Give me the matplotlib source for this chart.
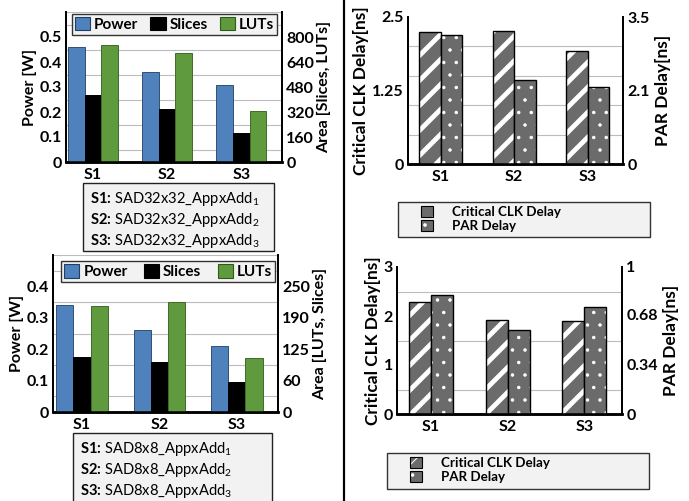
import matplotlib
matplotlib.use("Agg")
import matplotlib.pyplot as plt
from matplotlib.patches import Patch, Rectangle
from matplotlib.lines import Line2D
import numpy as np

plt.rcParams['font.family'] = ['Lato', 'DejaVu Sans']
plt.rcParams['mathtext.fontset'] = 'custom'
plt.rcParams['mathtext.rm'] = 'Lato'
plt.rcParams['mathtext.bf'] = 'Lato:bold'
plt.rcParams['mathtext.default'] = 'regular'

# ---- data ----
cats = ["S1", "S2", "S3"]

# SAD32x32
power32 = [0.46, 0.36, 0.31]
slices32 = [426, 339, 186]
luts32 = [752, 696, 329]
clk32 = [2.25, 2.27, 1.92]
par32 = [3.06, 2.00, 1.83]
names32 = ["SAD32x32_AppxAdd", "SAD32x32_AppxAdd", "SAD32x32_AppxAdd"]

# SAD8x8
power8 = [0.34, 0.26, 0.21]
slices8 = [110, 100, 60]
luts8 = [210, 218, 108]
clk8 = [2.29, 1.92, 1.90]
par8 = [0.81, 0.57, 0.73]
names8 = ["SAD8x8_AppxAdd", "SAD8x8_AppxAdd", "SAD8x8_AppxAdd"]

BLUE = "#4f81bd"
GREEN = "#5f9a3e"
GRAY = "#6b6b6b"
BOXBG = "#f2f2f2"

# figure is drawn at 75 dpi (hatch spacing follows dpi); K scales sizes
DPI = 75
K = 100 / DPI
FS = 11.5 * K
W, H = 689, 501
fig = plt.figure(figsize=(W / DPI, H / DPI), dpi=DPI)


def rect(x0, y0, x1, y1):
    # pixel box -> figure fractions
    return [x0 / W, 1 - y1 / H, (x1 - x0) / W, (y1 - y0) / H]


def style_axes(ax, ax2):
    for a in (ax, ax2):
        a.spines['top'].set_visible(False)
        a.spines['left'].set_linewidth(1.3 * K)
        a.spines['right'].set_linewidth(1.3 * K)
        a.spines['bottom'].set_linewidth(1.8 * K)
        a.tick_params(length=0, labelsize=FS, pad=3 * K)
        for t in a.get_yticklabels() + a.get_xticklabels():
            t.set_fontweight('bold')
    ax.set_xticks(range(len(cats)))
    ax.set_xticklabels(cats, fontweight='bold', fontsize=FS)
    ax.tick_params(axis='x', pad=4 * K)
    ax.set_axisbelow(True)


def area_panel(box, power, slices, luts, ymax, ratio, yticks, rticks, rlabels,
               rlabel, w, xlim, legbox):
    ax = fig.add_axes(rect(*box))
    ax2 = ax.twinx()
    x = np.arange(len(cats))
    ax.bar(x - w, power, w, color=BLUE, edgecolor='#2f4f75', lw=0.7 * K, zorder=3)
    ax2.bar(x, slices, w, color='black', edgecolor='black', lw=0.7 * K)
    ax2.bar(x + w, luts, w, color=GREEN, edgecolor='#3f6a28', lw=0.7 * K)
    ax.set_ylim(0, ymax)
    ax2.set_ylim(0, ymax * ratio)
    ax.set_xlim(*xlim)
    ax.set_yticks(yticks)
    ax.set_yticklabels([("%g" % v) for v in yticks])
    ax.set_yticks(np.arange(0.05, ymax + 1e-9, 0.05), minor=True)
    ax.grid(axis='y', which='minor', color='#bcbcbc', lw=0.8 * K)
    ax.tick_params(which='minor', length=0)
    ax2.set_yticks(rticks)
    ax2.set_yticklabels(rlabels)
    ax.set_ylabel("Power [W]", fontweight='bold', fontsize=FS, labelpad=2 * K)
    ax2.set_ylabel(rlabel, fontweight='bold', fontsize=FS, labelpad=2 * K)
    style_axes(ax, ax2)
    handles = [Patch(fc=BLUE, ec='#1f3f65', lw=0.8 * K),
               Patch(fc='black', ec='black', lw=0.8 * K),
               Patch(fc=GREEN, ec='#2f5a18', lw=0.8 * K)]
    leg = ax2.legend(handles, ["Power", "Slices", "LUTs"], ncol=3,
                     loc='lower left', bbox_to_anchor=legbox, mode='expand',
                     borderaxespad=0, fancybox=False, handlelength=1.0,
                     handleheight=1.0, handletextpad=0.25, columnspacing=0.4,
                     borderpad=0.2, prop={'weight': 'bold', 'size': 11 * K})
    leg.get_frame().set_facecolor(BOXBG)
    leg.get_frame().set_edgecolor('#333333')
    leg.get_frame().set_linewidth(1.0 * K)
    leg.get_frame().set_alpha(1)
    return ax, ax2


def delay_panel(box, clk, par, ymax, rmax, lticks, llabels, rticks, rlabels,
                w, xlim, grid):
    ax = fig.add_axes(rect(*box))
    ax2 = ax.twinx()
    x = np.arange(len(cats))
    b1 = ax.bar(x - w / 2, clk, w, color=GRAY, edgecolor='white', lw=0,
                hatch='/', zorder=3)
    for p in b1:
        p.set_hatch_linewidth(4.6)
    ax.bar(x - w / 2, clk, w, fill=False, edgecolor='black', lw=1.0 * K, zorder=4)
    b2 = ax2.bar(x + w / 2, par, w, color=GRAY, edgecolor='white', lw=0,
                 hatch='.')
    for p in b2:
        p.set_hatch_linewidth(0.9)
    ax2.bar(x + w / 2, par, w, fill=False, edgecolor='black', lw=1.0 * K)
    ax.set_ylim(0, ymax)
    ax2.set_ylim(0, rmax)
    ax.set_xlim(*xlim)
    ax.set_yticks(lticks)
    ax.set_yticklabels(llabels)
    ax.set_yticks(grid, minor=True)
    ax.grid(axis='y', which='minor', color='#bcbcbc', lw=0.8 * K)
    ax.tick_params(which='minor', length=0)
    ax2.set_yticks(rticks)
    ax2.set_yticklabels(rlabels)
    ax.set_ylabel("Critical CLK Delay[ns]", fontweight='bold',
                  fontsize=12.5 * K, labelpad=2 * K)
    ax2.set_ylabel("PAR Delay[ns]", fontweight='bold', fontsize=12.5 * K,
                   labelpad=4 * K)
    style_axes(ax, ax2)
    return ax, ax2


def delay_legend(frame, anchor):
    fig.patches.append(Rectangle((frame[0] / W, 1 - frame[3] / H),
                                 (frame[2] - frame[0]) / W,
                                 (frame[3] - frame[1]) / H,
                                 transform=fig.transFigure, fc=BOXBG,
                                 ec='#333333', lw=1.0 * K))
    p1 = Patch(fc=GRAY, ec='white', hatch='/', lw=0)
    p1.set_hatch_linewidth(3.5)
    p2 = Patch(fc=GRAY, ec='white', hatch='.', lw=0)
    p2.set_hatch_linewidth(0.9)
    h1 = (p1, Patch(fill=False, ec='black', lw=0.8 * K))
    h2 = (p2, Patch(fill=False, ec='black', lw=0.8 * K))
    leg = fig.legend([h1, h2], ["Critical CLK Delay", "PAR Delay"],
                     loc='upper left',
                     bbox_to_anchor=(anchor[0] / W, 1 - anchor[1] / H),
                     frameon=False, handlelength=0.9, handleheight=0.9,
                     handletextpad=1.4, labelspacing=0.12, borderpad=0,
                     borderaxespad=0, prop={'weight': 'bold', 'size': 9.6 * K})
    return leg


def name_box(frame, tx, ys, names):
    fig.patches.append(Rectangle((frame[0] / W, 1 - frame[3] / H),
                                 (frame[2] - frame[0]) / W,
                                 (frame[3] - frame[1]) / H,
                                 transform=fig.transFigure, fc=BOXBG,
                                 ec='#222222', lw=1.0 * K))
    for i, (c, n) in enumerate(zip(cats, names)):
        label = r"%s: $\mathrm{%s}_{\mathrm{%d}}$" % (c, n.replace("_", r"\_"), i + 1)
        fig.text(tx / W, 1 - ys[i] / H, label, fontweight='bold',
                 fontsize=10.6 * K, va='center', ha='left')


# top-left: SAD32x32 area / power
area_panel((66, 12, 282, 162), power32, slices32, luts32, 0.6, 1600,
           [0, 0.1, 0.2, 0.3, 0.4, 0.5], [0, 160, 320, 480, 640, 800],
           ["0", "160", "320", "480", "640", "800"], "Area [Slices, LUTs]",
           0.225, (-0.365, 2.55), (0.028, 0.847, 0.949, 0.146))
name_box((83, 183, 274, 251), 90, [199, 220, 241], names32)

# bottom-left: SAD8x8 area / power
area_panel((53, 255, 278, 412), power8, slices8, luts8, 0.5, 625,
           [0, 0.1, 0.2, 0.3, 0.4], [0, 62.5, 125, 187.5, 250],
           ["0", "60", "125", "190", "250"], "Area [LUTs, Slices]",
           0.22, (-0.374, 2.53), (0.036, 0.825, 0.951, 0.127))
name_box((73, 433, 272, 510), 80, [449, 470, 491], names8)

# top-right: SAD32x32 delays
delay_panel((408, 17, 623, 164), clk32, par32, 2.5, 3.5,
            [0, 1.25, 2.5], ["0", "1.25", "2.5"],
            [0, 1.75, 3.5], ["0", "2.1", "3.5"],
            0.295, (-0.445, 2.48), [0.5, 1.0, 1.5, 2.0, 2.5])
delay_legend((398, 202, 650, 237), (421, 206))

# bottom-right: SAD8x8 delays
delay_panel((397, 267, 622, 414), clk8, par8, 3, 1,
            [0, 1, 2, 3], ["0", "1", "2", "3"],
            [0, 0.34, 0.68, 1], ["0", "0.34", "0.68", "1"],
            0.286, (-0.44, 2.49), [0.5, 1.0, 1.5, 2.0, 2.5, 3.0])
delay_legend((387, 453, 649, 489), (410, 457))

# divider
fig.add_artist(Line2D([344 / W, 344 / W], [0, 1], transform=fig.transFigure,
                      color='black', lw=1.6 * K))

fig.savefig("out.png", dpi=DPI)
